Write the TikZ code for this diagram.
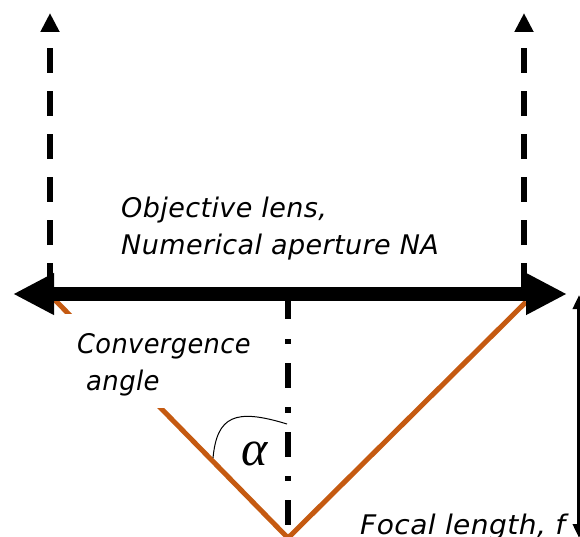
\documentclass[tikz,border=0pt]{standalone}
\usepackage{fontspec}
\setmainfont{DejaVu Sans}[LetterSpace=1.5]
\newfontfamily\alphafont{Liberation Serif}
\usetikzlibrary{arrows.meta}
\definecolor{rayorange}{HTML}{C55A11}
\tikzset{
  dashray/.style={line width=6pt,dash pattern=on 25pt off 18pt,-{Triangle[length=19pt,width=18pt]}},
  axisline/.style={line width=6pt,dash pattern=on 19pt off 20pt on 5pt off 19pt on 25pt off 19pt on 6pt off 19pt on 25pt off 19pt on 5pt off 19pt on 25pt off 50pt},
  lensline/.style={line width=14pt,{Triangle[length=41pt,width=39pt]}-{Triangle[length=41pt,width=39pt]}},
  ray/.style={line width=5pt,rayorange},
  lbl/.style={font=\itshape\fontsize{27}{36}\selectfont,align=left,inner sep=0pt,text=black},
  focalarrow/.style={line width=4pt,{Triangle[length=14pt,width=12pt]}-{Triangle[length=14pt,width=12pt]}},
  anglecurve/.style={line width=1pt}
}
\begin{document}
\begin{tikzpicture}[x=1pt,y=-1pt]
\clip (0,0) rectangle (580,537);
\coordinate (dlb) at (50,288);
\coordinate (dlt) at (50,13);
\coordinate (drb) at (524,288);
\coordinate (drt) at (524,13);
\coordinate (lensl) at (13,294);
\coordinate (lensr) at (567,294);
\coordinate (axt) at (288,300);
\coordinate (axb) at (288,530);
\coordinate (fv) at (288,538);
\coordinate (rl) at (53,298);
\coordinate (rr) at (526,302);
\coordinate (ft) at (579,295);
\coordinate (fb) at (579,538);
\coordinate (aa) at (213,458);
\coordinate (ab) at (287,424);
\draw[dashray] (dlb) -- (dlt);
\draw[dashray] (drb) -- (drt);
\draw[ray] (rl) -- (fv) -- (rr);
\draw[axisline] (axt) -- (axb);
\draw[lensline] (lensl) -- (lensr);
\draw[focalarrow] (ft) -- (fb);
\fill[white] (58,314) rectangle (262,408);
\draw[anglecurve] (aa) .. controls (217,416) and (235,408) .. (ab);
\node[lbl,anchor=base west] (obj) at (121,218) {Objective lens,};
\node[lbl,anchor=base west] (na) at (121,254) {Numerical aperture NA};
\node[lbl,anchor=base west,transform shape,xscale=.95] (conv) at (77,353) {Convergence};
\node[lbl,anchor=base west,transform shape,xscale=.96] (ang) at (86,390) {angle};
\node[lbl,anchor=base west,transform shape,xscale=1.04] (foc) at (360,534) {Focal length, f};
\node[anchor=base,inner sep=0pt] (alpha) at (255,465) {\alphafont\itshape\fontsize{50}{50}\selectfont α};
\end{tikzpicture}
\end{document}
